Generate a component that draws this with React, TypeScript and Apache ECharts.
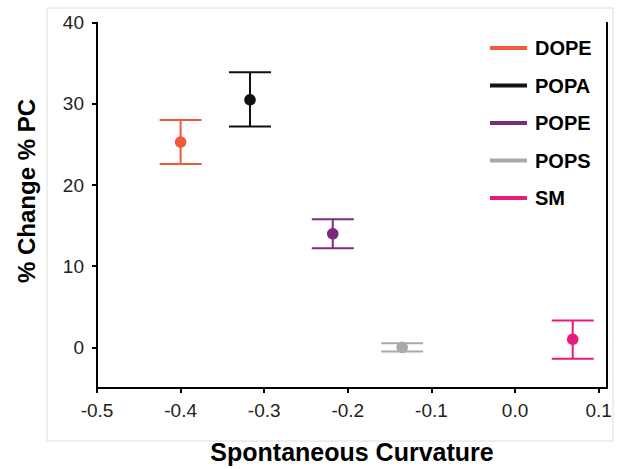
import React, { useEffect, useRef } from "react";
import * as echarts from "echarts";

const lipids = ["DOPE", "POPA", "POPE", "POPS", "SM"];
const colors = ["#ef5a3a", "#111111", "#7a2a80", "#a9a9a9", "#ea1a78"];
const curvature = [-0.40, -0.317, -0.218, -0.135, 0.069];
const changeMean = [25.3, 30.5, 14.0, 0.0, 1.0];
const changeLow = [22.6, 27.2, 12.2, -0.5, -1.4];
const changeHigh = [28.0, 33.9, 15.8, 0.5, 3.3];
const xTicks = [-0.5, -0.4, -0.3, -0.2, -0.1, 0.0, 0.1];
const yTicks = [0, 10, 20, 30, 40];

const FONT = "'Liberation Sans', Arial, sans-serif";

export default function App() {
  const ref = useRef<HTMLDivElement>(null);
  useEffect(() => {
    if (!ref.current) return;
    const chart = echarts.init(ref.current, undefined, { renderer: "svg" });
    const series = lipids.map((name, i) => ({
      name,
      type: "custom",
      itemStyle: { color: colors[i] },
      data: [[curvature[i], changeMean[i], changeLow[i], changeHigh[i]]],
      renderItem: (params: any, api: any) => {
        const x = api.value(0);
        const c = api.coord([x, api.value(1)]);
        const lo = api.coord([x, api.value(2)]);
        const hi = api.coord([x, api.value(3)]);
        const hw = 21;
        const st = { stroke: colors[i], lineWidth: 2 };
        return {
          type: "group",
          children: [
            { type: "line", shape: { x1: lo[0], y1: lo[1], x2: hi[0], y2: hi[1] }, style: st },
            { type: "line", shape: { x1: lo[0] - hw, y1: lo[1], x2: lo[0] + hw, y2: lo[1] }, style: st },
            { type: "line", shape: { x1: hi[0] - hw, y1: hi[1], x2: hi[0] + hw, y2: hi[1] }, style: st },
            { type: "circle", shape: { cx: c[0], cy: c[1], r: 5.8 }, style: { fill: colors[i] } },
          ],
        };
      },
    }));
    chart.setOption({
      animation: false,
      textStyle: { fontFamily: FONT },
      graphic: [
        {
          type: "rect",
          shape: { x: 47, y: 8, width: 566, height: 433 },
          style: { fill: "none", stroke: "#dedede", lineWidth: 1 },
          z: -10,
        },
        {
          type: "text",
          x: 26,
          y: 191,
          rotation: Math.PI / 2,
          style: {
            text: "% Change % PC",
            fontFamily: FONT,
            fontSize: 24,
            fontWeight: "bold",
            fill: "#000",
            align: "center",
            verticalAlign: "middle",
          },
        },
      ],
      grid: { left: 97, right: 12, top: 22.7, bottom: 80, containLabel: false },
      legend: {
        orient: "vertical",
        left: 485,
        top: 33,
        itemWidth: 37,
        itemHeight: 4,
        itemGap: 17.5,
        icon: "rect",
        textStyle: { fontFamily: FONT, fontSize: 20, fontWeight: "bold", color: "#000", lineHeight: 20, padding: [0, 0, 0, 3] },
        data: lipids,
      },
      xAxis: {
        type: "value",
        min: -0.5,
        max: 0.11,
        name: "Spontaneous Curvature",
        nameLocation: "middle",
        nameGap: 51,
        nameTextStyle: { fontFamily: FONT, fontSize: 25, fontWeight: "bold", color: "#000" },
        axisLine: { show: true, onZero: false, lineStyle: { color: "#000", width: 2 } },
        axisTick: { show: true, length: 5, lineStyle: { color: "#000", width: 2 }, customValues: xTicks },
        axisLabel: {
          fontFamily: FONT,
          fontSize: 19,
          color: "#222",
          margin: 13,
          customValues: xTicks,
          formatter: (v: number) => v.toFixed(1),
        },
        splitLine: { show: false },
      },
      yAxis: [
        {
          type: "value",
          min: -5,
          max: 40,
          axisLine: { show: true, onZero: false, lineStyle: { color: "#000", width: 2 } },
          axisTick: { show: true, length: 5, lineStyle: { color: "#000", width: 2 }, customValues: yTicks },
          axisLabel: { fontFamily: FONT, fontSize: 19, color: "#222", margin: 13, customValues: yTicks },
          splitLine: { show: false },
        },
        {
          type: "value",
          min: -5,
          max: 40,
          position: "right",
          axisLine: { show: true, onZero: false, lineStyle: { color: "#000", width: 2 } },
          axisTick: { show: false },
          axisLabel: { show: false },
          splitLine: { show: false },
        },
      ],
      series,
    });
    return () => chart.dispose();
  }, []);
  return <div ref={ref} style={{ position: "absolute", left: 0, top: 0, width: 619, height: 469 }} />;
}
